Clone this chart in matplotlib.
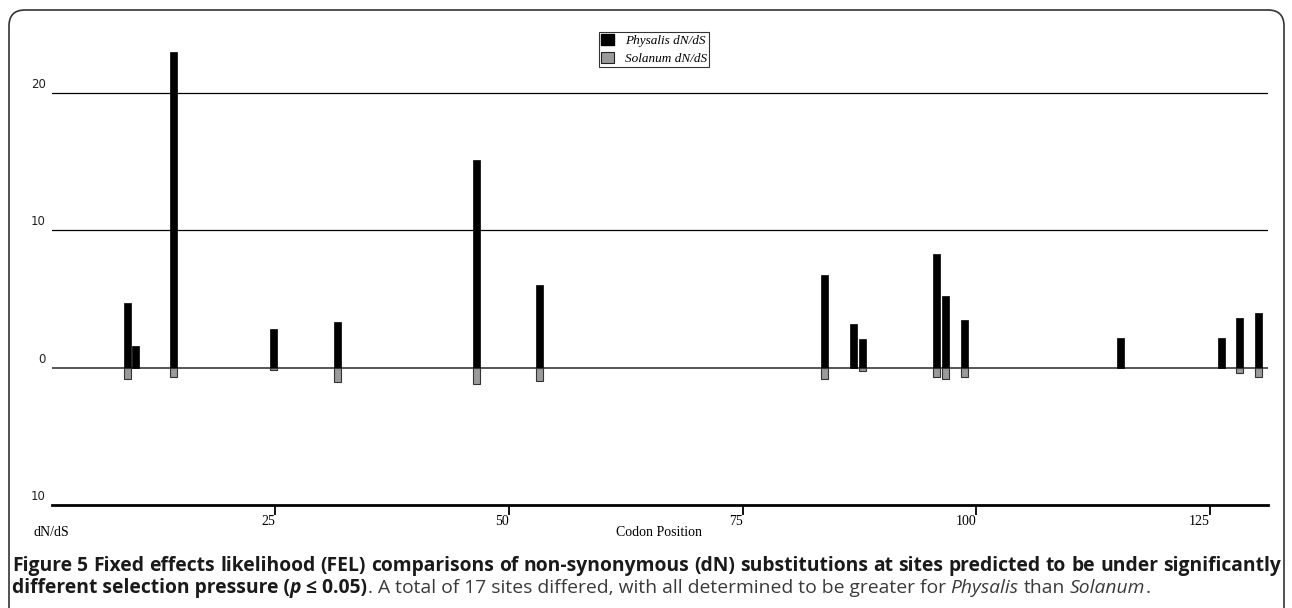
import numpy as np
import matplotlib.pyplot as plt
from matplotlib.patches import FancyBboxPatch, Patch
from matplotlib.transforms import blended_transform_factory

# sites (codon position) and dN/dS values
codon = [9.2, 10.1, 14.1, 24.8, 31.7, 46.5, 53.3, 83.8, 86.9, 87.8,
         95.7, 96.7, 98.7, 115.4, 126.2, 128.2, 130.2]
physalis = [4.7, 1.55, 23.0, 2.8, 3.3, 15.1, 6.0, 6.75, 3.15, 2.1,
            8.3, 5.25, 3.45, 2.15, 2.15, 3.6, 3.95]
solanum = [-0.8, 0.0, -0.7, -0.2, -1.05, -1.15, -1.0, -0.8, 0.0, -0.25,
           -0.7, -0.85, -0.7, 0.0, 0.0, -0.4, -0.7]
xticks = [25, 50, 75, 100, 125]
yticks = [20, 10, 0, -10]
ytick_labels = ['20', '10', '0', '10']

W, H = 1292, 608
fig = plt.figure(figsize=(W / 100, H / 100), dpi=100)
ax = fig.add_axes([52 / W, (H - 505) / H, (1268 - 52) / W, (505 - 30) / H])
ax.set_xlim(1.15, 131.2)
ax.set_ylim(-10, 24.6)

serif = 'Liberation Serif'

# grid lines
for v in [20, 10]:
    ax.axhline(v, color='black', lw=0.9, zorder=1)
ax.axhline(0, color='#555555', lw=1.4, zorder=1)

ax.bar(codon, physalis, width=0.75, color='black', edgecolor='black',
       lw=0.5, zorder=3)
sol = np.array(solanum)
cod = np.array(codon)
m = sol != 0
ax.bar(cod[m], sol[m], width=0.75, color='#9a9a9a', edgecolor='#333333',
       lw=0.8, zorder=3)

for s in ['top', 'right', 'left']:
    ax.spines[s].set_visible(False)
ax.spines['bottom'].set_linewidth(2.0)
ax.set_yticks([])
ax.set_xticks(xticks)
ax.set_xticklabels([str(t) for t in xticks], ha='right', fontsize=10,
                   family=serif)
ax.tick_params(axis='x', direction='out', length=7, width=1.3, pad=0)

trans = blended_transform_factory(fig.transFigure, ax.transData)
for v, lab in zip(yticks, ytick_labels):
    ax.text(46 / W, v + 0.15, lab, transform=trans, ha='right', va='bottom',
            fontsize=8.5, family='DejaVu Sans', color='#222222',
            clip_on=False)

fig.text(33 / W, 1 - 532 / H, 'dN/dS', ha='left', va='center', fontsize=10,
         family=serif)
fig.text(659 / W, 1 - 532 / H, 'Codon Position', ha='center', va='center',
         fontsize=10, family=serif)

handles = [Patch(facecolor='black', edgecolor='black'),
           Patch(facecolor='#9a9a9a', edgecolor='#222222', lw=0.8)]
leg = fig.legend(handles, ['Physalis dN/dS', 'Solanum dN/dS'],
                 loc='upper left', bbox_to_anchor=(599 / W, 1 - 32 / H),
                 frameon=True, fancybox=False, edgecolor='black',
                 prop={'family': serif, 'style': 'italic', 'size': 9.5},
                 handlelength=0.95, handleheight=0.95, handletextpad=0.9,
                 borderpad=0.15, labelspacing=0.35, borderaxespad=0)
leg.get_frame().set_linewidth(0.8)

# rounded border
box = FancyBboxPatch((0.09, -0.3), 12.75, 6.28,
                     boxstyle='round,pad=0,rounding_size=0.16',
                     transform=fig.dpi_scale_trans, fill=False,
                     edgecolor='#333333', lw=1.2)
fig.patches.append(box)

# caption
r = fig.canvas.get_renderer()
cap = 'Open Sans'
dark = '#1a1a1a'
grey = '#3a3a3a'


def width(s, fs, weight='normal', style='normal'):
    t = fig.text(0, 0, s, fontsize=fs, family=cap, fontweight=weight,
                 fontstyle=style)
    w = t.get_window_extent(r).width
    t.remove()
    return w


def space(fs, weight='normal', style='normal'):
    return width('a a', fs, weight, style) - width('aa', fs, weight, style)


line1 = ('Figure 5 Fixed effects likelihood (FEL) comparisons of '
         'non-synonymous (dN) substitutions at sites predicted to be '
         'under significantly').split()

# pick the size that makes line 1 fill the caption width
x0, x1 = 12, 1281
fs = 11
nat = sum(width(w, fs, 'bold') for w in line1) + \
    space(fs, 'bold') * (len(line1) - 1)
fs = fs * (x1 - x0 - 8) / nat

ws = [width(w, fs, 'bold') for w in line1]
gap = (x1 - x0 - sum(ws)) / (len(line1) - 1)
x = x0
for w, wd in zip(line1, ws):
    fig.text(x / W, 1 - 571 / H, w, fontsize=fs, family=cap,
             fontweight='bold', color=dark, va='baseline')
    x += wd + gap

runs = [('different selection pressure (', 'bold', 'normal', dark),
        ('p', 'bold', 'italic', dark),
        (' \u2264 0.05)', 'bold', 'normal', dark),
        ('. A total of 17 sites differed, with all determined to be greater for ',
         'normal', 'normal', grey),
        ('Physalis', 'normal', 'italic', grey),
        (' than ', 'normal', 'normal', grey),
        ('Solanum', 'normal', 'italic', grey),
        ('.', 'normal', 'normal', grey)]
x = x0
for s, wt, st, c in runs:
    sp = space(fs, wt, st)
    if s.startswith(' '):
        x += sp
    t = fig.text(x / W, 1 - 593 / H, s.strip(), fontsize=fs, family=cap,
                 fontweight=wt, fontstyle=st, color=c, va='baseline')
    x += t.get_window_extent(r).width
    if s.endswith(' '):
        x += sp

fig.savefig('out.png', dpi=100)
